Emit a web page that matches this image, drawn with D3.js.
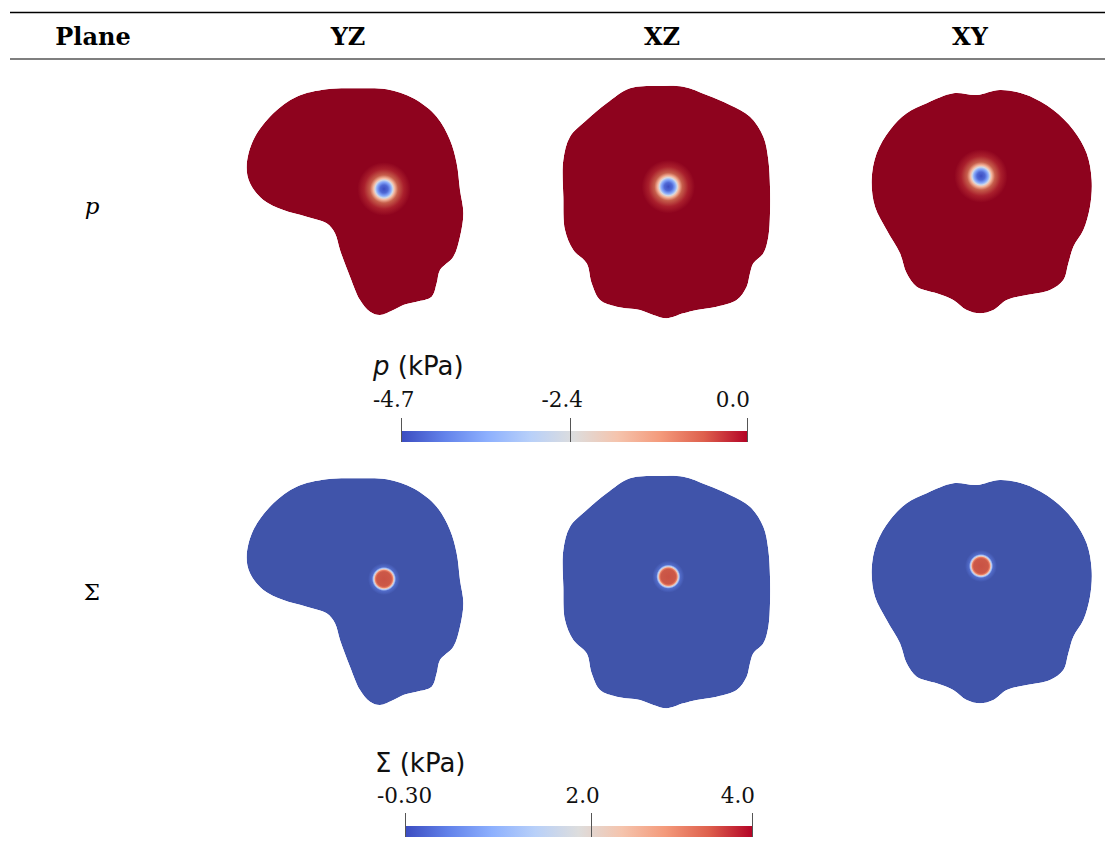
<!DOCTYPE html>
<html>
<head>
<meta charset="utf-8">
<script src="https://cdn.jsdelivr.net/npm/d3@7"></script>
<style>
  html, body { margin: 0; padding: 0; background: #fff; }
  svg { display: block; }
</style>
</head>
<body>
<svg id="chart" width="1105" height="856"></svg>
<script>
// ---------------- data ----------------
const planes = ["YZ", "XZ", "XY"];
const fields = ["p", "Σ"];
const fieldUnits = ["p (kPa)", "Σ (kPa)"];

// colour-bar ranges and tick labels
const pDomain = [-4.7, 0.0];
const pTicks = [-4.7, -2.4, 0.0];
const pTickLabels = ["-4.7", "-2.4", "0.0"];
const sDomain = [-0.30, 4.0];
const sTicks = [-0.30, 2.0, 4.0];
const sTickLabels = ["-0.30", "2.0", "4.0"];

// background field values inside each slice
const pBackground = 0.0;
const sBackground = 0.0;

// Cool-to-warm colormap stops (position, colour)
const cmapPos = [0, 0.125, 0.25, 0.375, 0.5, 0.625, 0.75, 0.875, 1];
const cmapCol = ["#3b4cc0", "#6282ea", "#8db0fe", "#b8d0f9", "#dddddd",
                 "#f5c4ad", "#f49a7b", "#de604d", "#b40426"];

// slice outlines in slice units (0..720 each axis)
const outlineYZ = [[100,130],[170,80],[260,58],[350,55],[440,58],[520,85],[590,140],[630,210],[650,280],[660,360],[670,430],[660,500],[640,560],[600,600],[590,640],[575,680],[530,695],[490,705],[460,720],[420,735],[390,725],[360,690],[330,620],[300,540],[285,490],[260,460],[200,440],[130,420],[70,390],[30,340],[20,290],[40,210]];
const outlineXZ = [[240,25],[320,18],[400,20],[470,45],[540,75],[600,110],[640,170],[655,240],[660,320],[660,400],[655,470],[640,520],[610,550],[600,580],[590,620],[560,660],[500,680],[440,690],[400,700],[350,715],[310,705],[270,690],[200,680],[150,660],[125,610],[110,550],[70,510],[45,450],[40,350],[40,240],[60,170],[110,120],[170,70]];
const outlineXY = [[200,70],[280,40],[350,45],[420,30],[500,45],[580,90],[640,150],[680,220],[695,300],[690,380],[670,450],[640,500],[625,550],[610,600],[570,630],[500,645],[440,660],[400,690],[360,700],[320,690],[280,660],[230,640],[170,620],[140,580],[120,520],[80,450],[45,380],[35,300],[50,220],[90,150],[140,100]];
const outlines = [outlineYZ, outlineXZ, outlineXY];

// source (needle tip) position in slice units
const spotX = [432, 355, 363];
const spotY = [357, 320, 288];

// radial profiles of the source (radius in slice units, value)
const pSpotR = [0, 12, 21, 27, 32, 42, 60, 80];
const pSpotV = [-4.7, -4.4, -3.6, -2.5, -1.6, -0.7, -0.2, 0.0];
const sSpotR = [0, 22, 26, 29, 32, 36, 48];
const sSpotV = [3.5, 3.45, 3.2, 2.3, 1.2, 0.25, 0.0];

// ---------------- layout ----------------
const svg = d3.select("#chart");
const W = 1105;
const panelX0 = [240, 550, 860];      // left of each plane column
const panelY0 = [70, 80, 80];         // top of each plane panel (first row)
const rowShift = [0, 390];            // vertical shift of each field row
const sliceScale = 1 / 3;             // slice unit -> px
const shadeK = 0.79;

const cmap = d3.scaleLinear().domain(cmapPos).range(cmapCol).interpolate(d3.interpolateRgb);
function shade(c) {
  const r = d3.rgb(c);
  return d3.rgb(r.r * shadeK, r.g * shadeK, r.b * shadeK).formatHex();
}
const pNorm = d3.scaleLinear().domain(pDomain).range([0, 1]).clamp(true);
const sNorm = d3.scaleLinear().domain(sDomain).range([0, 1]).clamp(true);
const norms = [pNorm, sNorm];
const backgrounds = [pBackground, sBackground];
const spotRs = [pSpotR, sSpotR];
const spotVs = [pSpotV, sSpotV];

const defs = svg.append("defs");

// ---------------- table rules & header ----------------
svg.append("line").attr("x1", 10).attr("x2", W).attr("y1", 12.5).attr("y2", 12.5)
  .attr("stroke", "#000").attr("stroke-width", 1.4);
svg.append("line").attr("x1", 10).attr("x2", W).attr("y1", 59).attr("y2", 59)
  .attr("stroke", "#000").attr("stroke-width", 1.2);

const headerX = [93, 348, 662, 970];
const headers = ["Plane"].concat(planes);
svg.selectAll("text.hdr").data(headers).enter().append("text")
  .attr("class", "hdr")
  .attr("x", (d, i) => headerX[i]).attr("y", 45)
  .attr("text-anchor", "middle")
  .attr("font-family", "'DejaVu Serif', serif").attr("font-weight", "bold")
  .attr("font-size", 24)
  .text(d => d);

// row labels
const rowLabelY = [214, 600];
svg.selectAll("text.rowlab").data(fields).enter().append("text")
  .attr("class", "rowlab")
  .attr("x", 92).attr("y", (d, i) => rowLabelY[i])
  .attr("text-anchor", "middle")
  .attr("font-family", "'DejaVu Serif', serif")
  .attr("font-style", (d, i) => i === 0 ? "italic" : "normal")
  .attr("font-size", 23)
  .text(d => d);

// ---------------- slices ----------------
fields.forEach((f, fi) => {
  planes.forEach((pl, pi) => {
    const top = panelY0[pi] + rowShift[fi];
    const xs = d3.scaleLinear().domain([0, 720]).range([panelX0[pi], panelX0[pi] + 720 * sliceScale]);
    const ys = d3.scaleLinear().domain([0, 720]).range([top, top + 720 * sliceScale]);
    const bg = shade(cmap(norms[fi](backgrounds[fi])));
    const line = d3.line().x(d => xs(d[0])).y(d => ys(d[1])).curve(d3.curveCatmullRomClosed.alpha(0.5));
    const clipId = `clip-${fi}-${pi}`;
    defs.append("clipPath").attr("id", clipId).append("path").attr("d", line(outlines[pi]));
    const g = svg.append("g").attr("clip-path", `url(#${clipId})`);
    g.append("path").attr("d", line(outlines[pi])).attr("fill", bg);

    // source spot radial gradient
    const rr = spotRs[fi], vv = spotVs[fi];
    const rMax = rr[rr.length - 1];
    const gid = `spot-${fi}-${pi}`;
    const grad = defs.append("radialGradient").attr("id", gid)
      .attr("cx", "50%").attr("cy", "50%").attr("r", "50%");
    rr.forEach((r, k) => {
      let c = cmap(norms[fi](vv[k]));
      if (k === rr.length - 1) c = bg;
      else if (fi === 0 && k >= rr.length - 3) c = d3.interpolateRgb(c, shade(c))(0.6);
      else if (fi === 1 && k <= 1) c = d3.interpolateRgb(c, shade(c))(0.4);
      else if (fi === 1 && k >= rr.length - 2) c = d3.interpolateRgb(c, bg)(0.5);
      grad.append("stop").attr("offset", r / rMax).attr("stop-color", c);
    });
    g.append("circle")
      .attr("cx", xs(spotX[pi])).attr("cy", ys(spotY[pi]))
      .attr("r", rMax * sliceScale)
      .attr("fill", `url(#${gid})`);
  });
});

// ---------------- colour bars ----------------
const cbars = [
  { domain: pDomain, ticks: pTicks, labels: pTickLabels, x0: 401, x1: 747, barY: 431, tickTop: 418, labY: 407, titleY: 375, titleX: 373, title: fieldUnits[0] },
  { domain: sDomain, ticks: sTicks, labels: sTickLabels, x0: 405, x1: 752, barY: 826, tickTop: 813, labY: 803, titleY: 772, titleX: 375, title: fieldUnits[1] }
];
const cbGrad = defs.append("linearGradient").attr("id", "cbgrad")
  .attr("x1", "0%").attr("x2", "100%").attr("y1", "0%").attr("y2", "0%");
cmapPos.forEach((p, k) => cbGrad.append("stop").attr("offset", p).attr("stop-color", cmapCol[k]));

cbars.forEach((cb, ci) => {
  const x = d3.scaleLinear().domain(cb.domain).range([cb.x0, cb.x1]);
  const g = svg.append("g");
  g.append("rect").attr("x", cb.x0).attr("y", cb.barY)
    .attr("width", cb.x1 - cb.x0).attr("height", 11)
    .attr("fill", "url(#cbgrad)");
  g.selectAll("line.tk").data(cb.ticks).enter().append("line")
    .attr("x1", d => Math.round(x(d)) + 0.5).attr("x2", d => Math.round(x(d)) + 0.5)
    .attr("y1", cb.tickTop).attr("y2", cb.barY + 11)
    .attr("stroke", "#555").attr("stroke-width", 1);
  const n = cb.ticks.length;
  g.selectAll("text.tl").data(cb.ticks).enter().append("text")
    .attr("x", (d, i) => i === 0 ? x(d) - 28 : (i === n - 1 ? x(d) + 3 : x(d) - 8))
    .attr("y", cb.labY)
    .attr("text-anchor", (d, i) => i === 0 ? "start" : (i === n - 1 ? "end" : "middle"))
    .attr("font-family", "'DejaVu Serif', serif")
    .attr("font-size", 21.5)
    .attr("fill", "#111")
    .text((d, i) => cb.labels[i]);
  const t = g.append("text").attr("x", cb.titleX).attr("y", cb.titleY)
    .attr("font-family", "'DejaVu Sans', sans-serif").attr("font-size", 26).attr("fill", "#111");
  const sym = cb.title.split(" ")[0];
  t.append("tspan").attr("font-style", ci === 0 ? "italic" : "normal").text(sym);
  t.append("tspan").text(cb.title.slice(sym.length));
});
</script>
</body>
</html>
